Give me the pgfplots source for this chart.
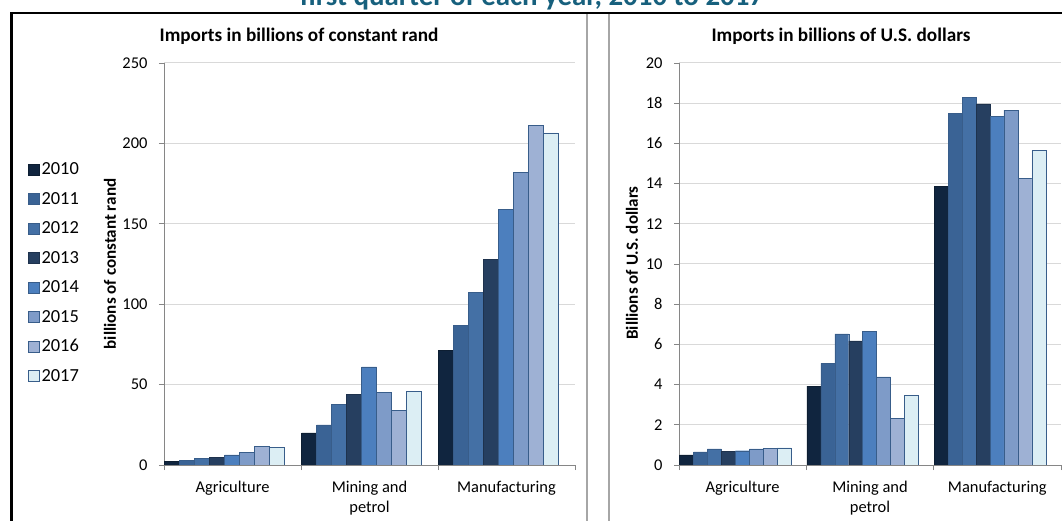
\documentclass[border=0pt]{standalone}
\usepackage{fontspec}
\setmainfont{Carlito}
\usepackage{pgfplots}
\pgfplotsset{compat=1.18}
\usepackage{pgfplotstable}

\definecolor{c10}{HTML}{10253F}
\definecolor{c11}{HTML}{3A6395}
\definecolor{c12}{HTML}{4470A5}
\definecolor{c13}{HTML}{263F60}
\definecolor{c14}{HTML}{4C7FBE}
\definecolor{c15}{HTML}{7E9BC8}
\definecolor{c16}{HTML}{9EB1D4}
\definecolor{c17}{HTML}{DCEEF4}
\definecolor{edge}{HTML}{385D8A}
\definecolor{axisgray}{HTML}{868686}
\definecolor{gridgray}{HTML}{D9D9D9}
\definecolor{panelgray}{HTML}{A6A6A6}
\definecolor{titleteal}{HTML}{17607D}

% Imports, first quarter of each year (billions of constant rand)
\pgfplotstableread{
x   y2010 y2011 y2012 y2013 y2014 y2015 y2016 y2017
0.5 2.1   2.9   4.2   4.6   6.3   7.7   11.7  10.8
1.5 20.0  25.0  37.9  44.0  61.0  45.2  34.2  45.6
2.5 71.5  86.9  107.5 128.0 159.0 182.2 211.3 206.5
}\randdata

% Imports, first quarter of each year (billions of U.S. dollars)
\pgfplotstableread{
x   y2010 y2011 y2012 y2013 y2014 y2015 y2016 y2017
0.5 0.50  0.65  0.80  0.68  0.71  0.80  0.83  0.86
1.5 3.92  5.05  6.52  6.17  6.66  4.38  2.31  3.47
2.5 13.86 17.48 18.29 17.97 17.36 17.66 14.26 15.65
}\usddata

\pgfplotsset{
  panel/.style={
    scale only axis,
    xmin=0, xmax=3, ymin=0,
    axis x line*=bottom, axis y line*=left,
    axis line style={draw=axisgray, line width=0.9bp, -},
    tick align=outside, major tick length=5bp,
    tick style={draw=axisgray, line width=0.9bp},
    xtick={0,1,2,3}, xticklabels={,,,},
    extra x ticks={0.5,1.5,2.5},
    extra x tick labels={Agriculture,{Mining and\\petrol},Manufacturing},
    extra x tick style={major tick length=0bp,
      xticklabel style={align=center, anchor=north, yshift=-13bp,
        font=\fontsize{16.5}{20}\selectfont}},
    ymajorgrids, grid style={draw=gridgray, line width=1bp},
    ybar, bar width=0.1095,
    tick label style={font=\fontsize{16.5}{20}\selectfont, text=black},
    yticklabel style={xshift=-8bp},
    /pgf/number format/assume math mode=true,
    legend image code/.code={\draw[#1] (0bp,-5.5bp) rectangle (11bp,5.5bp);},
  },
  s0/.style={fill=c10, draw=c10!80!black, bar shift=-0.44075},
  s1/.style={fill=c11, draw=edge, bar shift=-0.33125},
  s2/.style={fill=c12, draw=edge, bar shift=-0.22175},
  s3/.style={fill=c13, draw=c13!80!black, bar shift=-0.11225},
  s4/.style={fill=c14, draw=edge, bar shift=-0.00275},
  s5/.style={fill=c15, draw=edge, bar shift=0.10675},
  s6/.style={fill=c16, draw=edge, bar shift=0.21625},
  s7/.style={fill=c17, draw=edge, bar shift=0.32575},
}

\begin{document}
\begin{tikzpicture}
\useasboundingbox (0,0) rectangle (1062bp,521bp);

% heading line of the figure, running off the top edge
\node[anchor=base, font=\bfseries\fontsize{29}{34}\selectfont, text=titleteal]
  at (532bp,515bp) {first quarter of each year, 2010 to 2017};

% frame and panel borders
\draw[panelgray, line width=1.5bp] (587bp,0bp) -- (587bp,508bp);
\draw[panelgray, line width=1.5bp] (609bp,0bp) -- (609bp,508bp);
\draw[black, line width=2.6bp] (11.5bp,0bp) -- (11.5bp,508bp) -- (1062bp,508bp);

% left panel: constant rand
\begin{axis}[panel, at={(164bp,56bp)}, anchor=south west,
    width=411bp, height=402bp, ymax=250, ytick={0,50,...,250},
    legend style={at={(-0.331,0.757)}, anchor=north west, draw=none, fill=none,
      font=\fontsize{18.5}{22}\selectfont, inner sep=0pt, row sep=12bp,
      legend cell align=left,
      /tikz/every even column/.append style={column sep=6bp}}]
  \addplot[s0] table[x=x, y=y2010] {\randdata};
  \addplot[s1] table[x=x, y=y2011] {\randdata};
  \addplot[s2] table[x=x, y=y2012] {\randdata};
  \addplot[s3] table[x=x, y=y2013] {\randdata};
  \addplot[s4] table[x=x, y=y2014] {\randdata};
  \addplot[s5] table[x=x, y=y2015] {\randdata};
  \addplot[s6] table[x=x, y=y2016] {\randdata};
  \addplot[s7] table[x=x, y=y2017] {\randdata};
  \legend{2010,2011,2012,2013,2014,2015,2016,2017}
\end{axis}
\node[anchor=base, font=\bfseries\fontsize{19.3}{23}\selectfont] at (299bp,479bp)
  {Imports in billions of constant rand};
\node[rotate=90, font=\bfseries\fontsize{17.1}{20}\selectfont] at (110bp,257bp)
  {billions of constant rand};

% right panel: U.S. dollars
\begin{axis}[panel, at={(679bp,56bp)}, anchor=south west,
    width=382bp, height=402bp, ymax=20, ytick={0,2,...,20}]
  \addplot[s0] table[x=x, y=y2010] {\usddata};
  \addplot[s1] table[x=x, y=y2011] {\usddata};
  \addplot[s2] table[x=x, y=y2012] {\usddata};
  \addplot[s3] table[x=x, y=y2013] {\usddata};
  \addplot[s4] table[x=x, y=y2014] {\usddata};
  \addplot[s5] table[x=x, y=y2015] {\usddata};
  \addplot[s6] table[x=x, y=y2016] {\usddata};
  \addplot[s7] table[x=x, y=y2017] {\usddata};
\end{axis}
\node[anchor=base, font=\bfseries\fontsize{19.3}{23}\selectfont] at (841bp,479bp)
  {Imports in billions of U.S. dollars};
\node[rotate=90, font=\bfseries\fontsize{17.1}{20}\selectfont] at (632bp,258bp)
  {Billions of U.S. dollars};
\end{tikzpicture}
\end{document}
